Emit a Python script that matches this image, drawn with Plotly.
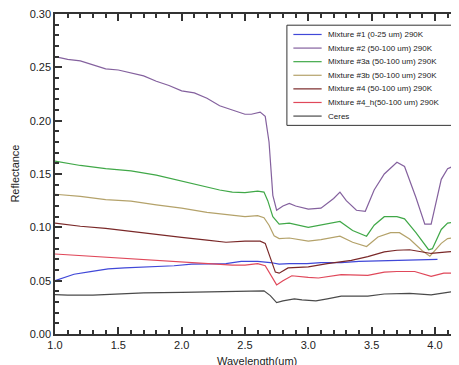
import plotly.graph_objects as go

# ---- data ----
x_m1 = [1.0, 1.05, 1.15, 1.28, 1.42, 1.55, 1.68, 1.8, 1.94, 2.08, 2.2, 2.35, 2.47, 2.6, 2.7, 2.77, 2.85, 2.99, 3.1, 3.26, 3.4, 3.52, 3.65, 3.79, 3.9, 4.02]
y_m1 = [0.050, 0.052, 0.056, 0.0585, 0.061, 0.062, 0.0625, 0.063, 0.064, 0.0655, 0.0655, 0.066, 0.068, 0.068, 0.067, 0.0655, 0.066, 0.066, 0.067, 0.067, 0.068, 0.0685, 0.069, 0.0695, 0.0695, 0.070]

x_m2 = [1.0, 1.1, 1.2, 1.3, 1.4, 1.5, 1.6, 1.7, 1.8, 1.9, 2.0, 2.1, 2.2, 2.3, 2.4, 2.5, 2.55, 2.62, 2.66, 2.69, 2.72, 2.75, 2.8, 2.85, 2.9, 3.0, 3.1, 3.2, 3.25, 3.3, 3.38, 3.45, 3.52, 3.6, 3.7, 3.76, 3.85, 3.92, 3.97, 4.05, 4.1, 4.2]
y_m2 = [0.260, 0.2575, 0.256, 0.2525, 0.2485, 0.2475, 0.245, 0.242, 0.237, 0.233, 0.228, 0.226, 0.221, 0.214, 0.210, 0.206, 0.206, 0.208, 0.204, 0.180, 0.130, 0.116, 0.120, 0.1225, 0.120, 0.117, 0.118, 0.127, 0.133, 0.125, 0.116, 0.115, 0.135, 0.150, 0.161, 0.157, 0.128, 0.103, 0.103, 0.145, 0.155, 0.160]

x_m3a = [1.0, 1.2, 1.4, 1.6, 1.8, 2.0, 2.1, 2.2, 2.3, 2.4, 2.5, 2.6, 2.65, 2.68, 2.72, 2.77, 2.85, 3.0, 3.1, 3.25, 3.35, 3.46, 3.52, 3.6, 3.7, 3.76, 3.85, 3.95, 3.98, 4.05, 4.1, 4.2]
y_m3a = [0.162, 0.158, 0.155, 0.153, 0.149, 0.1435, 0.141, 0.138, 0.135, 0.133, 0.1325, 0.134, 0.133, 0.125, 0.110, 0.103, 0.104, 0.100, 0.102, 0.1055, 0.097, 0.0917, 0.102, 0.110, 0.110, 0.108, 0.095, 0.079, 0.080, 0.098, 0.104, 0.1055]

x_m3b = [1.0, 1.2, 1.4, 1.6, 1.8, 2.0, 2.2, 2.4, 2.5, 2.6, 2.65, 2.69, 2.73, 2.77, 2.85, 3.0, 3.1, 3.25, 3.35, 3.46, 3.55, 3.65, 3.72, 3.8, 3.9, 3.96, 4.05, 4.1, 4.2]
y_m3b = [0.131, 0.129, 0.126, 0.1245, 0.121, 0.118, 0.114, 0.111, 0.110, 0.111, 0.109, 0.102, 0.092, 0.0895, 0.090, 0.087, 0.0885, 0.0917, 0.086, 0.082, 0.091, 0.095, 0.095, 0.089, 0.078, 0.073, 0.085, 0.0895, 0.091]

x_m4 = [1.0, 1.2, 1.4, 1.6, 1.8, 2.0, 2.2, 2.35, 2.5, 2.62, 2.66, 2.7, 2.74, 2.77, 2.84, 3.0, 3.15, 3.34, 3.47, 3.6, 3.7, 3.8, 3.9, 3.97, 4.1, 4.2]
y_m4 = [0.104, 0.101, 0.099, 0.096, 0.093, 0.0905, 0.088, 0.086, 0.087, 0.087, 0.085, 0.072, 0.058, 0.057, 0.062, 0.063, 0.066, 0.069, 0.0725, 0.077, 0.0785, 0.079, 0.077, 0.0755, 0.077, 0.078]

x_m4h = [1.0, 1.2, 1.4, 1.6, 1.8, 2.0, 2.2, 2.4, 2.5, 2.6, 2.66, 2.7, 2.75, 2.8, 2.87, 3.0, 3.08, 3.26, 3.47, 3.6, 3.7, 3.84, 3.92, 3.97, 4.07, 4.2]
y_m4h = [0.075, 0.0735, 0.072, 0.0705, 0.069, 0.0675, 0.066, 0.0645, 0.0645, 0.066, 0.064, 0.056, 0.046, 0.050, 0.0546, 0.053, 0.0525, 0.0556, 0.055, 0.058, 0.0586, 0.0586, 0.056, 0.054, 0.057, 0.057]

x_ceres = [1.0, 1.1, 1.3, 1.5, 1.7, 2.0, 2.2, 2.4, 2.58, 2.65, 2.7, 2.75, 2.8, 2.89, 2.95, 3.06, 3.15, 3.26, 3.47, 3.6, 3.8, 3.97, 4.1, 4.2]
y_ceres = [0.037, 0.0365, 0.0365, 0.0375, 0.0385, 0.039, 0.0395, 0.040, 0.041, 0.0405, 0.036, 0.0295, 0.031, 0.033, 0.032, 0.031, 0.033, 0.0355, 0.0355, 0.0375, 0.038, 0.0367, 0.039, 0.041]

names = ["Mixture #1 (0-25 um) 290K", "Mixture #2 (50-100 um) 290K",
         "Mixture #3a (50-100 um) 290K", "Mixture #3b (50-100 um) 290K",
         "Mixture #4 (50-100 um) 290K", "Mixture #4_h(50-100 um) 290K", "Ceres"]

x_ticks = [1.0, 1.5, 2.0, 2.5, 3.0, 3.5, 4.0]
x_tick_labels = ["1.0", "1.5", "2.0", "2.5", "3.0", "3.5", "4.0"]
y_ticks = [0.0, 0.05, 0.10, 0.15, 0.20, 0.25, 0.30]
y_tick_labels = ["0.00", "0.05", "0.10", "0.15", "0.20", "0.25", "0.30"]

series = [(x_m1, y_m1), (x_m2, y_m2), (x_m3a, y_m3a), (x_m3b, y_m3b),
          (x_m4, y_m4), (x_m4h, y_m4h), (x_ceres, y_ceres)]
colors = ["#4048d8", "#84619e", "#40a848", "#b4a26a", "#7a2828", "#e0485a", "#4a4a4a"]

font = "Liberation Sans, Arial, sans-serif"
ink = "#222"
axc = "#333"

fig = go.Figure()
for (xs, ys), n, c in zip(series, names, colors):
    fig.add_trace(go.Scatter(x=xs, y=ys, mode="lines", name=n, showlegend=False,
                             line=dict(color=c, width=1.2)))

common = dict(showline=True, linecolor=axc, linewidth=1.5, mirror="allticks",
              ticks="inside", ticklen=7, tickwidth=1.5, tickcolor=axc,
              showgrid=False, ticklabeloverflow="allow",
              tickfont=dict(size=11, color=ink, family=font))

fig.update_xaxes(range=[1.0, 4.19], tickmode="array", tickvals=x_ticks,
                 ticktext=x_tick_labels,
                 minor=dict(ticks="inside", ticklen=4, dtick=0.1, tick0=1.0,
                            tickcolor=axc, tickwidth=1.5),
                 **common)
fig.update_yaxes(range=[0.0, 0.30], tickmode="array", tickvals=y_ticks,
                 ticktext=y_tick_labels,
                 minor=dict(ticks="inside", ticklen=4, dtick=0.01, tick0=0.0,
                            tickcolor=axc, tickwidth=1.5),
                 **common)

# axis titles
annotations = [
    dict(text="Wavelength(um)", xref="paper", yref="paper", x=0.5, y=-0.058,
         xanchor="center", yanchor="top", showarrow=False,
         font=dict(size=11, color=ink, family=font)),
    dict(text="Reflectance", xref="paper", yref="paper", x=-0.1, y=0.5,
         xanchor="center", yanchor="middle", textangle=-90, showarrow=False,
         font=dict(size=11, color=ink, family=font)),
]

# boxed legend (paper coordinates of the plot area)
shapes = [dict(type="rect", xref="paper", yref="paper", x0=0.574, x1=0.993,
               y0=0.652, y1=0.965, line=dict(color="#333", width=1),
               fillcolor="white", layer="above")]
row0, step = 0.936, 0.0425
for i, (n, c) in enumerate(zip(names, colors)):
    yy = row0 - i * step
    shapes.append(dict(type="line", xref="paper", yref="paper", x0=0.590, x1=0.660,
                       y0=yy, y1=yy, line=dict(color=c, width=1.2), layer="above"))
    annotations.append(dict(text=n, xref="paper", yref="paper", x=0.670, y=yy,
                            xanchor="left", yanchor="middle", showarrow=False,
                            font=dict(size=8, color=ink, family=font)))

# the page body adds an 8 px offset, so the figure is sized to fit the window
fig.update_layout(
    template="none",
    width=451, height=357,
    margin=dict(l=47, r=0, t=6, b=31, autoexpand=False),
    paper_bgcolor="white", plot_bgcolor="white",
    font=dict(family=font, color=ink),
    showlegend=False,
    shapes=shapes, annotations=annotations,
)

fig.write_html("out.html")
